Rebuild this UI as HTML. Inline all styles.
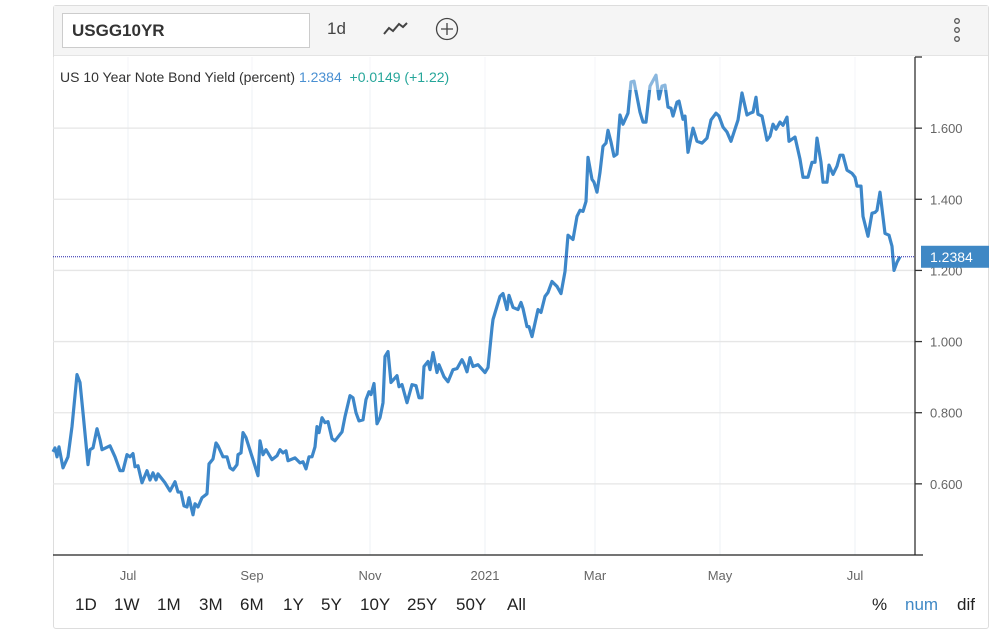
<!DOCTYPE html>
<html><head><meta charset="utf-8"><style>
body{margin:0;width:1003px;height:634px;background:#fff;font-family:"Liberation Sans",sans-serif;overflow:hidden;position:relative}
.frame{position:absolute;left:53px;top:5px;width:936px;height:624px;border:1px solid #ddd;border-radius:3px;box-sizing:border-box}
.toolbar{position:absolute;left:54px;top:6px;width:934px;height:49px;background:#f5f5f5;border-bottom:1px solid #e4e4e4}
.sym{position:absolute;left:62px;top:13px;width:248px;height:35px;background:#fff;border:1px solid #ccc;box-sizing:border-box;font-weight:bold;font-size:17px;color:#333;line-height:33px;padding-left:9px}
.tb{position:absolute;font-size:17px;color:#444}
.rb{position:absolute;top:595px;font-size:17px;color:#222}
</style></head><body>
<div class="frame"></div>
<div class="toolbar"></div>
<div class="sym">USGG10YR</div>
<div class="tb" style="left:327px;top:19px">1d</div>
<svg style="position:absolute;left:380px;top:18px" width="30" height="22"><polyline points="4,16 9,10 13,13 19,6 23,9 27,5" fill="none" stroke="#444" stroke-width="2"/></svg>
<svg style="position:absolute;left:434px;top:17px" width="26" height="26"><circle cx="13" cy="12" r="10.5" fill="none" stroke="#444" stroke-width="1.3"/><path d="M13 6v12M7 12h12" stroke="#444" stroke-width="1.3"/></svg>
<svg style="position:absolute;left:952px;top:17px" width="12" height="28"><circle cx="5" cy="4" r="2.3" fill="none" stroke="#555" stroke-width="1.3"/><circle cx="5" cy="13" r="2.3" fill="none" stroke="#555" stroke-width="1.3"/><circle cx="5" cy="22" r="2.3" fill="none" stroke="#555" stroke-width="1.3"/></svg>

<svg id="chart" style="position:absolute;left:0;top:0" width="1003" height="634"></svg>

<div style="position:absolute;left:60px;top:69px;font-size:14px;color:#333;white-space:pre">US 10 Year Note Bond Yield (percent) <span style="color:#4a90d2">1.2384</span>  <span style="color:#26a69a">+0.0149 (+1.22)</span></div>

<div class="rb" style="left:75px">1D</div>
<div class="rb" style="left:114px">1W</div>
<div class="rb" style="left:157px">1M</div>
<div class="rb" style="left:199px">3M</div>
<div class="rb" style="left:240px">6M</div>
<div class="rb" style="left:283px">1Y</div>
<div class="rb" style="left:321px">5Y</div>
<div class="rb" style="left:360px">10Y</div>
<div class="rb" style="left:407px">25Y</div>
<div class="rb" style="left:456px">50Y</div>
<div class="rb" style="left:507px">All</div>
<div class="rb" style="left:872px">%</div>
<div class="rb" style="left:905px;color:#3f88c5">num</div>
<div class="rb" style="left:957px">dif</div>

<script>
const days=[0,1,2,3,5,7.5,9.5,12,13.5,15,17.5,18.5,20,22,23.5,24.5,28.5,31,33.5,35,37,38.5,40,41,42.5,44.5,47,48.5,50,51.5,52.5,56,58.5,61,62.5,64,65.5,67,68,70,71,72.5,74.5,77,78,80,81.5,82.5,85,87,88.5,90,92,92.5,94,95,96.5,100,102.5,103.5,105,106.5,109.5,112,113.5,115,116.5,117.5,121,123.5,125,126.5,128,129.5,131,132,133,134.5,136,137.5,139.5,141,144.5,146,148.5,150,151.5,153,155,156.5,158,159,160.5,162,163.5,165,166,167.5,169,172,173,174.5,177,179.5,181.5,183,184.5,185.5,187.5,188.5,190,192,193,195.5,197.5,200,202,204.5,205.5,207,208.5,210,212.5,216,217.5,219.5,220,223.5,225,227,228,230,232.5,234,235,237,238,239.5,242.5,244,246,247.5,249.5,252,254,256,257.5,260,262,263.5,265,266.5,267.5,269.5,270.5,272,273.5,275,276.5,277.5,279,280.5,282,283.5,285,287.5,289,290.5,293.5,295,296.5,298.5,301.5,303,304.5,306,307.5,309,310,312,313,315,316,317.5,320,322,324.5,327,329,331.5,333,335,337,339,342.5,344.5,347,348.5,350,351.5,352.5,354.5,357,358.5,360,361.5,363.5,365,367,368,371,373.5,375,377.5,379.5,381,382,384,385,387,388,390,392,393.5,395,397,399.5,401,402,404,405,407.5,409.5,411,412,413.5,416,418,419.5,420.5,422,423.5];
const yields=[0.690,0.701,0.676,0.704,0.645,0.676,0.761,0.907,0.885,0.800,0.654,0.696,0.701,0.755,0.724,0.696,0.707,0.676,0.637,0.637,0.682,0.676,0.685,0.648,0.651,0.603,0.637,0.611,0.631,0.611,0.628,0.603,0.580,0.606,0.577,0.577,0.538,0.535,0.561,0.513,0.544,0.535,0.561,0.572,0.656,0.670,0.715,0.707,0.676,0.676,0.645,0.639,0.654,0.682,0.687,0.744,0.730,0.668,0.623,0.721,0.682,0.696,0.668,0.679,0.696,0.687,0.693,0.665,0.673,0.659,0.662,0.642,0.676,0.676,0.704,0.761,0.744,0.786,0.772,0.775,0.727,0.721,0.746,0.789,0.848,0.842,0.800,0.777,0.780,0.837,0.859,0.851,0.882,0.769,0.786,0.828,0.958,0.972,0.885,0.904,0.873,0.879,0.828,0.879,0.876,0.842,0.842,0.930,0.944,0.921,0.969,0.913,0.935,0.901,0.887,0.921,0.924,0.949,0.938,0.915,0.955,0.930,0.935,0.913,0.927,1.039,1.062,1.127,1.135,1.090,1.130,1.096,1.090,1.110,1.093,1.042,1.042,1.014,1.090,1.082,1.127,1.138,1.169,1.155,1.135,1.197,1.299,1.287,1.352,1.369,1.366,1.394,1.518,1.456,1.448,1.420,1.476,1.549,1.558,1.594,1.561,1.521,1.527,1.637,1.611,1.642,1.730,1.732,1.645,1.617,1.617,1.718,1.749,1.682,1.718,1.721,1.659,1.656,1.634,1.673,1.676,1.625,1.634,1.532,1.600,1.563,1.558,1.572,1.623,1.642,1.634,1.603,1.589,1.563,1.623,1.699,1.637,1.642,1.645,1.687,1.639,1.634,1.566,1.577,1.611,1.597,1.617,1.608,1.631,1.563,1.575,1.513,1.462,1.462,1.504,1.504,1.572,1.504,1.448,1.448,1.496,1.470,1.493,1.524,1.524,1.482,1.473,1.462,1.437,1.437,1.352,1.296,1.361,1.363,1.369,1.420,1.304,1.299,1.268,1.200,1.223,1.2384];
const yTicks=[0.6,0.8,1.0,1.2,1.4,1.6];
const yTickLabels=["0.600","0.800","1.000","1.200","1.400","1.600"];
const xTickDays=[37.5,99.5,158.5,216,271,333.5,401];
const xTickLabels=["Jul","Sep","Nov","2021","Mar","May","Jul"];
const lastValue=1.2384;

const NS="http://www.w3.org/2000/svg";
const svg=document.getElementById('chart');
const L=53,R=915,T=57,B=555;
const xScale=d=>L+d*2;
const yScale=v=>T+(1.8-v)/1.4*(B-T);
function mk(tag,attrs,parent){const e=document.createElementNS(NS,tag);for(const k in attrs)e.setAttribute(k,attrs[k]);(parent||svg).appendChild(e);return e;}

xTickDays.forEach((d,i)=>{
  const g=mk('line',{x1:xScale(d),x2:xScale(d),y1:T,y2:B,stroke:'#edf1f5','stroke-width':1});
  
  
  const t=mk('text',{x:xScale(d),y:580,'text-anchor':'middle','font-size':13,fill:'#666','font-family':'Liberation Sans, sans-serif'});
  t.textContent=xTickLabels[i];
  
  
});
yTicks.forEach((v,i)=>{
  const g=mk('line',{x1:L,x2:R,y1:yScale(v),y2:yScale(v),stroke:'#e6e6e6','stroke-width':1.3});
  
  
  const tk=mk('line',{x1:R,x2:R+7,y1:yScale(v),y2:yScale(v),stroke:'#333','stroke-width':1.3});
  
  
  const t=mk('text',{x:930,y:yScale(v)+5,'font-size':13,fill:'#666','font-family':'Liberation Sans, sans-serif'});
  t.textContent=yTickLabels[i];
  
  
});
const topTick=mk('line',{x1:R,x2:R+7,y1:yScale(1.8),y2:yScale(1.8),stroke:'#333','stroke-width':1.3});



const pl=mk('polyline',{points:days.map((d,i)=>xScale(d)+','+yScale(yields[i])).join(' '),fill:'none',stroke:'#3d87c9','stroke-width':3.2,'stroke-linejoin':'round'});



const ov=mk('rect',{x:L,y:T,width:R-L,height:33,fill:'rgba(255,255,255,0.4)'});



const dl=mk('line',{x1:L,x2:R,y1:yScale(lastValue),y2:yScale(lastValue),stroke:'#2222aa','stroke-width':1,'stroke-dasharray':'1,1'});



const ax=mk('line',{x1:R,x2:R,y1:T,y2:B,stroke:'#333','stroke-width':1.3});


const bx=mk('line',{x1:L,x2:R+8,y1:B,y2:B,stroke:'#222','stroke-width':1.3});



const lb=mk('rect',{x:921,y:yScale(lastValue)-11,width:68,height:22,fill:'#3f88c5'});


const lt=mk('text',{x:930,y:yScale(lastValue)+5,'font-size':14,fill:'#fff','font-family':'Liberation Sans, sans-serif'});
lt.textContent=lastValue.toFixed(4);


</script>
</body></html>
